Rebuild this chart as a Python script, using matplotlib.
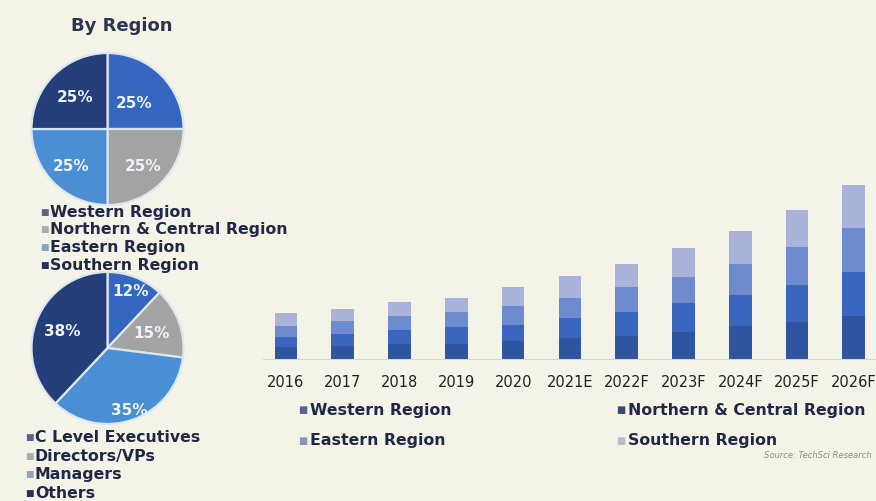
import numpy as np
import matplotlib
matplotlib.use("Agg")
import matplotlib.pyplot as plt

# ---- data -------------------------------------------------------------
years = ["2016", "2017", "2018", "2019", "2020", "2021E",
         "2022F", "2023F", "2024F", "2025F", "2026F"]
western = [11.7, 13.3, 15.0, 15.0, 17.6, 21.0, 23.0, 26.7, 33.3, 37.3, 43.3]
northern_central = [10.0, 11.7, 14.3, 17.3, 16.7, 20.0, 24.0, 29.0, 30.7, 36.7, 43.6]
eastern = [11.6, 13.3, 14.0, 14.6, 18.3, 20.0, 25.0, 26.6, 31.0, 37.7, 44.0]
southern = [12.4, 11.7, 14.0, 14.0, 19.0, 22.3, 23.0, 28.7, 33.3, 37.6, 43.6]
region_names = ["Western Region", "Northern & Central Region",
                "Eastern Region", "Southern Region"]

region_share = [25, 25, 25, 25]
role_names = ["C Level Executives", "Directors/VPs", "Managers", "Others"]
role_share = [12, 15, 35, 38]

# ---- style ------------------------------------------------------------
W, H = 876, 502
BG = "#f4f3e8"
TXT = "#1f2845"
bar_colors = ["#2f54a0", "#3b66bf", "#6f8bd0", "#a9b3d9"]
pie_colors = ["#3566c0", "#a3a3a3", "#4a8fd4", "#233e78"]
pie_marker_colors = ["#56658a", "#a7acac", "#8fa3bc", "#26335e"]
bar_marker_colors = ["#56658a", "#3a4a70", "#8a95b5", "#b8bccb"]

plt.rcParams["font.family"] = ["DejaVu Sans"]

fig = plt.figure(figsize=(W / 100, H / 100), dpi=100)
fig.patch.set_facecolor(BG)


def px_axes(left, top, width, height):
    """Axes placed with pixel coordinates measured from the top-left."""
    return fig.add_axes([left / W, (H - top - height) / H, width / W, height / H])


# ---- stacked bars -----------------------------------------------------
ax = px_axes(263, 170, 613, 190)
ax.set_facecolor("none")
x = np.arange(len(years))
bottom = np.zeros(len(years))
for vals, col in zip([western, northern_central, eastern, southern], bar_colors):
    ax.bar(x, vals, width=0.40, bottom=bottom, color=col, edgecolor="none")
    bottom += np.array(vals)
ax.set_xlim(-0.405, 10.39)
ax.set_ylim(0, 190)
for s in ["top", "right", "left"]:
    ax.spines[s].set_visible(False)
ax.spines["bottom"].set_color("#d6d6cf")
ax.spines["bottom"].set_linewidth(0.8)
ax.set_yticks([])
ax.set_xticks(x)
ax.set_xticklabels(years, fontsize=10.5, color="#222222")
ax.tick_params(axis="x", length=0, pad=11)

# legend below the bars
leg_pos = [(298, 410), (616, 410), (298, 441), (616, 441)]
for (lx, ly), name, mcol in zip(leg_pos, region_names, bar_marker_colors):
    fig.text(lx / W, 1 - ly / H, "■", fontsize=7, color=mcol,
             va="center", ha="left")
    fig.text((lx + 12) / W, 1 - ly / H, name, fontsize=11.3, fontweight="bold",
             color=TXT, va="center", ha="left")

fig.text(872 / W, 1 - 456 / H, "Source: TechSci Research", fontsize=6,
         style="italic", color="#8a8a8a", ha="right", va="center")


# ---- pies ---------------------------------------------------------------
def draw_pie(cx, cy, shares, label_r):
    R = 76
    pad = 80
    pax = px_axes(cx - pad, cy - pad, 2 * pad, 2 * pad)
    pax.axis("off")
    wedges, _ = pax.pie(shares, colors=pie_colors, startangle=90,
                        counterclock=False, radius=1.0,
                        wedgeprops=dict(edgecolor="#dbe6ee", linewidth=1.6))
    pax.set_xlim(-pad / R, pad / R)
    pax.set_ylim(-pad / R, pad / R)
    pax.set_aspect("equal")
    for w, v, r in zip(wedges, shares, label_r):
        ang = np.deg2rad((w.theta1 + w.theta2) / 2)
        pax.text(r * np.cos(ang), r * np.sin(ang), f"{v}%", ha="center",
                 va="center", fontsize=11, fontweight="bold", color="#eef2fa")


draw_pie(107.5, 130, region_share, [0.5, 0.67, 0.68, 0.61])
fig.text(122 / W, 1 - 26 / H, "By Region", fontsize=13, fontweight="bold",
         color="#2c3550", ha="center", va="center")

draw_pie(107.5, 349, role_share, [0.81, 0.61, 0.86, 0.64])


def side_legend(names, x0, y0, dy):
    for i, (name, mcol) in enumerate(zip(names, pie_marker_colors)):
        y = y0 + i * dy
        fig.text(x0 / W, 1 - y / H, "■", fontsize=6.5, color=mcol,
                 va="center", ha="left")
        fig.text((x0 + 10) / W, 1 - y / H, name, fontsize=11.3, fontweight="bold",
                 color=TXT, va="center", ha="left")


side_legend(region_names, 40, 212, 17.7)
side_legend(role_names, 25, 438, 18.5)

fig.savefig("out.png", dpi=100, facecolor=BG)
